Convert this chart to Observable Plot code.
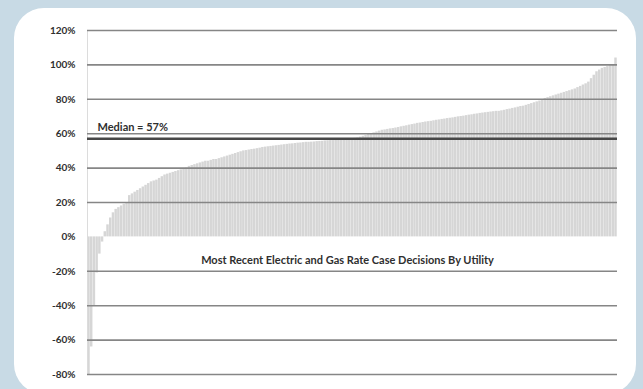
<!DOCTYPE html>
<html><head><meta charset="utf-8">
<script src="https://cdn.jsdelivr.net/npm/d3@7"></script>
<script src="https://cdn.jsdelivr.net/npm/@observablehq/plot@0.6"></script>
<style>
html,body{margin:0;padding:0;}
body{width:643px;height:389px;background:#c8dae5;position:relative;overflow:hidden;font-family:Lato,sans-serif;}
#panel{position:absolute;left:14px;top:8px;width:622px;height:386px;background:#fff;border-radius:30px;}
#chart{position:absolute;left:0;top:0;}
</style></head><body>
<div id="panel"></div><div id="chart"></div>
<script>
// Rate case outcomes (% of requested increase granted), one per utility, sorted ascending
const outcomes = [
 -80,-64,-40,-21,-10,-3,3,7,11,14,16,17,18,19,20,24,25,26,27,28,
 29,30,31,32,32.5,33,34,35,36,36.5,37,37.5,38,38.5,39,39.5,40,41,41.5,42,
 42.5,43,43.5,44,44,44.5,45,45,45.5,46,46.5,47,47.5,48,48.5,49,49.5,50,50.2,50.5,
 50.8,51,51.3,51.6,52,52.2,52.4,52.6,52.8,53,53.2,53.4,53.6,53.8,54,54.1,54.3,54.5,54.6,54.8,
 55,55,55.1,55.2,55.4,55.5,55.6,55.8,55.9,56,56,56.2,56.5,57,57,57,57,57,57.3,57.5,
 58,58.5,59,59.5,60,60.5,61,61.5,62,62.2,62.5,62.8,63,63.3,63.6,64,64.3,64.6,65,65.3,
 65.6,66,66.2,66.5,66.8,67,67.2,67.5,67.8,68,68.3,68.5,68.8,69,69.2,69.5,69.8,70,70.2,70.5,
 70.8,71,71.3,71.5,71.8,72,72.2,72.4,72.6,72.8,73,73,73.3,73.6,74,74.3,74.7,75,75.4,75.8,
 76,76.5,77,77.5,78,78.5,79,79.8,80.5,81,81.5,82,82.5,83,83.5,84,84.5,85,85.5,86,
 86.8,87.5,88.3,89,90,92,94,96,97,98,98.5,99,99.5,100,104
];
const utilityRank = outcomes.map((_, i) => i + 1);
const yTicks = [-80, -60, -40, -20, 0, 20, 40, 60, 80, 100, 120];
const gridTicks = [-80, -60, -40, -20, 20, 40, 60, 80, 100, 120];
const medianValue = 57;
const medianLabel = "Median = 57%";
const chartNote = "Most Recent Electric and Gas Rate Case Decisions By Utility";

const rows = outcomes.map((v, i) => ({rank: utilityRank[i], value: v}));

const chart = Plot.plot({
  width: 643, height: 389,
  marginTop: 30, marginBottom: 15, marginLeft: 87, marginRight: 26,
  style: {background: "transparent", fontFamily: "Lato, sans-serif", overflow: "visible"},
  x: {type: "band", domain: utilityRank, axis: null, padding: 0.1},
  y: {domain: [-80, 120], axis: null},
  marks: [
    Plot.barY(rows, {x: "rank", y: "value", fill: "#d6d6d6"}),
    Plot.frame({anchor: "left", stroke: "#dcdcdc", strokeWidth: 1}),
    Plot.ruleY(gridTicks, {stroke: "#868686", strokeWidth: 1.6}),
    Plot.ruleY([medianValue], {stroke: "#474747", strokeWidth: 2.5}),
    Plot.axisY(yTicks, {label: null, tickSize: 0, tickPadding: 12, tickFormat: d => d + "%", fontWeight: "bold", fontSize: 10, fill: "#2f2f2f"}),
    Plot.text([medianLabel], {y: 63.5, frameAnchor: "left", dx: 10, textAnchor: "start", fontWeight: "bold", fontSize: 11, fill: "#2f2f2f"}),
    Plot.text([chartNote], {y: -13.5, frameAnchor: "middle", dx: -5, fontWeight: "bold", fontSize: 11, fill: "#2f2f2f"})
  ]
});
document.getElementById("chart").appendChild(chart);
</script>
</body></html>
